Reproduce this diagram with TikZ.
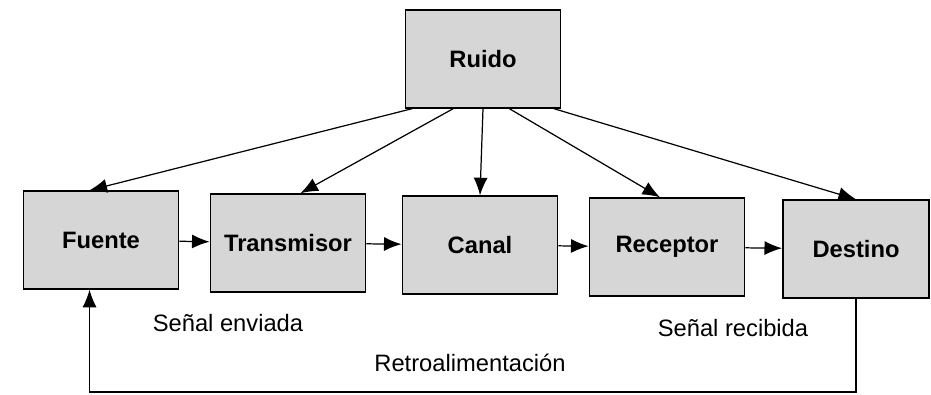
\documentclass[tikz,border=0pt]{standalone}
\usepackage{fontspec}
\setmainfont{Liberation Sans}
\usetikzlibrary{arrows.meta}
\begin{document}
\begin{tikzpicture}[x=0.02cm,y=-0.02cm,line width=0.7pt]
    \tikzstyle{bloque}=[draw=black,line width=1.1pt,fill=black!16,minimum width=3.1cm,minimum height=1.95cm,inner sep=0pt,font=\fontsize{13.5}{16}\selectfont\bfseries]
    \tikzstyle{etiqueta}=[font=\fontsize{13.5}{16}\selectfont]
    \tikzstyle{flecha}=[-{Latex[length=10pt,width=8pt]}]

    \useasboundingbox (0,0) rectangle (931,395);

    % Noise source
    \node[bloque] (ruido) at (483,59) {Ruido};

    % Chain of blocks
    \node[bloque] (fuente) at (101,240) {Fuente};
    \node[bloque] (trans) at (288,243) {Transmisor};
    \node[bloque] (canal) at (480,245) {Canal};
    \node[bloque] (recep) at (667,247) {Receptor};
    \node[bloque,minimum width=2.92cm] (destino) at (856,249) {Destino};

    % Noise acts on every block
    \draw[flecha] (ruido.215) -- (fuente.103);
    \draw[flecha] (ruido.239) -- (trans.76);
    \draw[flecha] (ruido.south) -- (canal.north);
    \draw[flecha] (ruido.298) -- (recep.98);
    \draw[flecha] (ruido.325) -- (destino.north);

    % Connect the chain
    \draw[flecha] (fuente) -- (trans);
    \draw[flecha] (trans) -- (canal);
    \draw[flecha] (canal) -- (recep);
    \draw[flecha] (recep) -- (destino);

    % Feedback path
    \coordinate (retro) at (500,392);
    \draw[flecha] (destino.south) |- (retro) -| (fuente.257);

    % Annotate signals
    \node[etiqueta] at (228,323) (l1) {Señal enviada};
    \node[etiqueta] at (733,328) (l2) {Señal recibida};
    \node[etiqueta] at (470,363) (l3) {Retroalimentación};

\end{tikzpicture}
\end{document}
